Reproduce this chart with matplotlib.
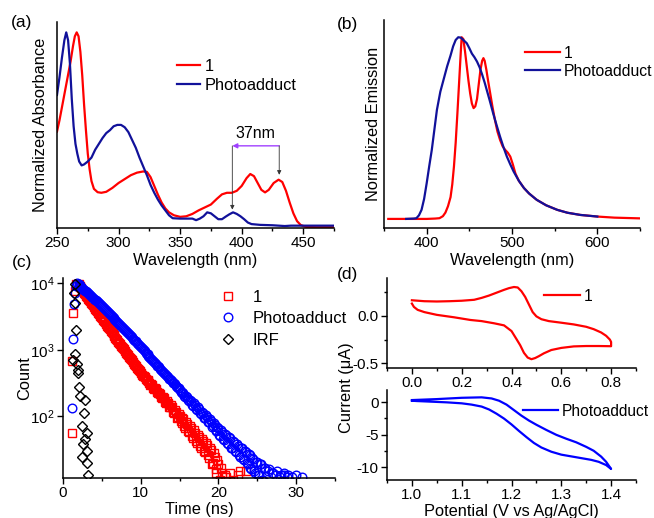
import numpy as np
import matplotlib
matplotlib.use('Agg')
import matplotlib.pyplot as plt
from matplotlib.ticker import MultipleLocator, FixedLocator, NullLocator, FormatStrFormatter

plt.rcParams['font.family'] = ['Liberation Sans', 'DejaVu Sans']
plt.rcParams['mathtext.fontset'] = 'custom'
plt.rcParams['mathtext.rm'] = 'Liberation Sans'
plt.rcParams['mathtext.it'] = 'Liberation Sans:italic'
plt.rcParams['axes.unicode_minus'] = False

# ---------------- data: (a) absorbance ----------------
abs1_wl = [250, 252, 255, 258, 261, 263, 264.5, 266, 267.5, 269, 270.5, 272, 273.5, 275, 276.5, 278, 280,
           283, 286, 290, 295, 300, 305, 310, 315, 320, 323, 326, 329, 332, 335, 338, 341, 345, 350,
           355, 360, 365, 370, 375, 380, 384, 388, 392, 396, 400, 404, 407, 410, 413, 416, 419, 422,
           426, 430, 433, 436, 439, 442, 445, 448, 452, 460, 475]
abs1_val = [0.493, 0.55, 0.65, 0.75, 0.85, 0.93, 0.98, 1.0, 0.98, 0.9, 0.78, 0.63, 0.5, 0.38, 0.3, 0.24, 0.2,
            0.183, 0.18, 0.185, 0.205, 0.23, 0.25, 0.27, 0.283, 0.289, 0.287, 0.26, 0.215, 0.17, 0.13, 0.10, 0.08, 0.065, 0.057,
            0.06, 0.072, 0.09, 0.105, 0.12, 0.15, 0.172, 0.18, 0.18, 0.19, 0.215, 0.255, 0.276, 0.265, 0.23, 0.195, 0.182, 0.195,
            0.23, 0.247, 0.235, 0.19, 0.13, 0.075, 0.035, 0.015, 0.006, 0.004, 0.004]
absP_wl = [250, 252, 254, 256, 257.5, 259, 260.5, 262, 263.5, 265, 266.5, 268, 270, 272, 275, 278, 281, 284,
           287, 290, 293, 296, 299, 302, 305, 308, 311, 314, 317, 320, 323, 326, 329, 332, 335, 338, 341,
           344, 350, 355, 360, 363, 366, 369, 372, 375, 378, 381, 384, 387, 390, 393, 396, 399, 402, 405,
           408, 415, 425, 435, 440, 475]
absP_val = [0.68, 0.77, 0.87, 0.96, 1.0, 0.96, 0.84, 0.66, 0.52, 0.43, 0.38, 0.34, 0.32, 0.325, 0.34, 0.36, 0.40, 0.43,
            0.46, 0.485, 0.50, 0.52, 0.527, 0.527, 0.515, 0.49, 0.45, 0.41, 0.36, 0.315, 0.27, 0.22, 0.18, 0.145, 0.115, 0.09, 0.065,
            0.05, 0.048, 0.048, 0.048, 0.04, 0.048, 0.06, 0.08, 0.075, 0.06, 0.045, 0.045, 0.058, 0.07, 0.08, 0.072, 0.06, 0.045, 0.028,
            0.02, 0.016, 0.014, 0.01, 0.012, 0.012]
shift_from = 430.5   # nm, peak of 1
shift_to = 392.4     # nm, peak of photoadduct
shift_label = "37nm"

# ---------------- data: (b) emission ----------------
em1_wl = [355, 380, 400, 410, 415, 419, 422, 425, 428, 430, 432, 434, 436, 438, 440, 441, 443, 445, 447, 449,
          451, 453, 455, 457, 459, 461, 463, 465, 466.5, 468, 470, 472, 474.5, 477, 480, 483, 486, 489, 492,
          495, 498, 501, 504, 508, 514, 520, 529, 540, 553, 565, 580, 600, 620, 650]
em1_val = [0.0, 0.0, 0.0, 0.002, 0.004, 0.015, 0.035, 0.07, 0.12, 0.19, 0.29, 0.42, 0.58, 0.75, 0.92, 1.0, 0.99, 0.92, 0.84, 0.76,
           0.69, 0.635, 0.61, 0.62, 0.66, 0.74, 0.82, 0.87, 0.885, 0.87, 0.82, 0.76, 0.69, 0.62, 0.545, 0.48, 0.435, 0.40, 0.38,
           0.365, 0.343, 0.30, 0.25, 0.21, 0.17, 0.14, 0.105, 0.075, 0.05, 0.034, 0.022, 0.013, 0.007, 0.003]
emP_wl = [376, 385, 388, 391, 394, 397, 400, 403, 406, 409, 412, 416, 420, 424, 428, 431, 434, 437, 440, 443,
          447, 450, 453, 456, 459, 462, 465, 468, 471, 474, 478, 482, 486, 490, 494, 498, 502, 508, 514, 520,
          529, 540, 553, 565, 580, 600]
emP_val = [0.0, 0.002, 0.004, 0.02, 0.05, 0.11, 0.196, 0.29, 0.38, 0.49, 0.60, 0.70, 0.77, 0.84, 0.90, 0.95, 0.985, 1.0, 0.998, 0.985,
           0.967, 0.94, 0.91, 0.89, 0.866, 0.835, 0.795, 0.75, 0.70, 0.65, 0.58, 0.515, 0.453, 0.395, 0.343, 0.30, 0.26, 0.21, 0.17, 0.14,
           0.105, 0.075, 0.05, 0.034, 0.022, 0.013]

# ---------------- data: (c) decay (counts per 0.125 ns channel) ----------------
chan_w = 0.125
rise1_t = [1.1, 1.2, 1.35, 1.5, 1.7]
rise1_c = [56, 680, 3500, 7600, 9700]
dec1_t0 = 2.0
dec1_c = [9550, 9180, 8650, 8300, 7850, 7520, 7110, 6830, 6460, 6120, 5850, 5600, 5310, 5020, 4810, 4620,
          4370, 4130, 3950, 3790, 3590, 3400, 3250, 3120, 2950, 2790, 2690, 2580, 2440, 2300, 2220, 2130,
          2020, 1900, 1840, 1770, 1670, 1580, 1520, 1460, 1390, 1310, 1260, 1210, 1150, 1080, 1045, 1010,
          951, 895, 865, 830, 787, 740, 716, 690, 652, 610, 593, 572, 540, 505, 491, 475,
          447, 418, 405, 400, 392, 365, 350, 352, 340, 312, 300, 302, 293, 268, 260, 262,
          255, 230, 222, 228, 220, 196, 190, 198, 188, 165, 160, 168, 160, 140, 136, 146,
          138, 118, 114, 124, 117, 96, 98, 108, 102, 84, 80, 94, 90, 72, 68, 82,
          76, 60, 58, 71, 66, 50, 48, 62, 56, 43, 40, 53, 49, 36, 34, 45,
          42, 30, 29, 40, 37, 26, 24, 33, 31, 19, 20, 28, 25, 14, 16, 22,
          19, 10, 11, 17, 14, 8, 9, 13, 12.5, 7, 8, 10, 14, 6, 9, 11,
          10, 7, 8, 9, 13, 7, 15, 8, 9, 6, 10, 7, 15, 6, 8, 5, 6]
riseP_t = [1.2, 1.3, 1.4, 1.5, 1.65, 1.8]
riseP_c = [135, 1450, 4800, 7100, 9000, 9900]
decP_t0 = 2.0
decP_c = [9550, 9300, 8980, 8700, 8450, 8170, 7940, 7720, 7470, 7230, 7020, 6820, 6600, 6390, 6210, 6040,
          5840, 5650, 5490, 5340, 5160, 4990, 4860, 4720, 4570, 4400, 4270, 4130, 3980, 3840, 3720, 3600,
          3470, 3340, 3240, 3140, 3020, 2910, 2820, 2730, 2630, 2530, 2450, 2380, 2290, 2200, 2130, 2060,
          1980, 1900, 1840, 1790, 1710, 1640, 1580, 1530, 1470, 1410, 1370, 1330, 1270, 1210, 1180, 1150,
          1100, 1050, 1020, 985, 944, 900, 877, 850, 813, 780, 755, 732, 700, 670, 650, 632,
          603, 575, 560, 545, 521, 495, 484, 470, 450, 428, 419, 408, 389, 368, 361, 352,
          336, 318, 313, 305, 290, 272, 270, 265, 251, 236, 228, 236, 224, 204, 196, 205,
          194, 174, 168, 178, 170, 150, 145, 156, 147, 130, 126, 136, 128, 111, 108, 118,
          111, 96, 94, 104, 97, 82, 81, 90, 84, 70, 71, 79, 74, 60, 62, 70,
          66, 52, 50, 62, 59, 45, 44, 55, 52, 40, 38, 49, 47, 34, 33, 43,
          41, 30, 29, 38, 36, 26, 25, 34, 33, 23, 22, 30, 29, 20, 19, 27,
          26, 17, 16, 24, 23, 15, 14, 21, 21, 13, 13, 19, 19, 11, 11, 17,
          17, 10, 10, 15, 16, 9, 9, 14, 14, 8, 8, 13, 15, 7, 7, 12.5,
          13, 6, 6, 13, 14, 6, 7, 12.5, 13, 5, 5, 9, 12.5, 5, 6, 8,
          13, 5, 5, 4, 4, 9, 12.5, 4, 4]
irf_t = [1.5, 1.45, 1.55, 1.65, 1.55, 1.35, 1.75, 1.95, 1.9, 2.05, 2.2, 2.85, 2.75, 2.4, 3.05, 2.85, 2.6, 3.05, 2.4, 3.05, 3.2]
irf_c = [9600, 7100, 5000, 2000, 850, 710, 600, 500, 450, 280, 200, 178, 112, 71, 56, 45, 38, 30, 25, 20, 13]

# ---------------- data: (d) cyclic voltammetry ----------------
cv1_E = [0.0, 0.05, 0.10, 0.15, 0.20, 0.25, 0.28, 0.31, 0.34, 0.37, 0.39, 0.41, 0.425, 0.44, 0.455, 0.47, 0.485,
         0.50, 0.52, 0.55, 0.60, 0.65, 0.70, 0.73, 0.76, 0.78, 0.795, 0.80,
         0.80, 0.75, 0.70, 0.65, 0.60, 0.56, 0.53, 0.51, 0.495, 0.48, 0.465, 0.45, 0.435, 0.42, 0.40, 0.37,
         0.33, 0.28, 0.235, 0.17, 0.10, 0.05, 0.023, 0.008, 0.0]
cv1_I = [0.165, 0.155, 0.152, 0.155, 0.16, 0.17, 0.19, 0.215, 0.245, 0.275, 0.293, 0.305, 0.30, 0.26, 0.2, 0.12, 0.04,
         -0.005, -0.035, -0.055, -0.072, -0.09, -0.115, -0.14, -0.175, -0.21, -0.25, -0.275,
         -0.32, -0.318, -0.318, -0.322, -0.338, -0.36, -0.395, -0.425, -0.445, -0.457, -0.44, -0.39, -0.31, -0.245, -0.16, -0.10,
         -0.078, -0.055, -0.043, -0.015, 0.011, 0.04, 0.064, 0.095, 0.13]
cvP_E = [1.0, 1.05, 1.10, 1.14, 1.16, 1.175, 1.19, 1.205, 1.22, 1.235, 1.25, 1.27, 1.29, 1.31, 1.33, 1.35, 1.365,
         1.38, 1.39, 1.40,
         1.39, 1.375, 1.36, 1.33, 1.30, 1.28, 1.26, 1.245, 1.23, 1.215, 1.20, 1.185, 1.17, 1.155, 1.14, 1.12, 1.10,
         1.07, 1.04, 1.01, 1.0]
cvP_I = [0.3, 0.45, 0.65, 0.72, 0.55, 0.2, -0.4, -1.25, -2.1, -2.85, -3.5, -4.3, -5.05, -5.65, -6.2, -6.9, -7.5,
         -8.4, -9.2, -10.3,
         -9.7, -9.2, -8.9, -8.5, -8.1, -7.65, -7.0, -6.3, -5.4, -4.45, -3.45, -2.55, -1.8, -1.15, -0.7, -0.4, -0.2,
         -0.05, 0.05, 0.15, 0.2]

RED = '#ff0000'
NAVY = '#11119a'
BLUE = '#0000ff'
PURPLE = '#a040ff'

W, H = 654, 518
fig = plt.figure(figsize=(W / 100, H / 100), dpi=100)


def rect(l, t, r, b):
    return [l / W, 1 - b / H, (r - l) / W, (b - t) / H]


def style(ax):
    for s in ['top', 'right']:
        ax.spines[s].set_visible(False)
    for s in ['left', 'bottom']:
        ax.spines[s].set_linewidth(1.1)
    ax.tick_params(which='major', direction='out', length=4, width=1.0, labelsize=11, pad=2)
    ax.tick_params(which='minor', direction='out', length=2.2, width=1.0)


LABEL_FS = 11.8

# ---- (a) ----
axa = fig.add_axes(rect(57, 22, 334, 228))
style(axa)
axa.plot(abs1_wl, abs1_val, color=RED, lw=1.6, label='1')
axa.plot(absP_wl, absP_val, color=NAVY, lw=1.6, label='Photoadduct')
axa.set_xlim(250, 475)
axa.set_ylim(0, 1.053)
axa.xaxis.set_major_locator(MultipleLocator(50))
axa.xaxis.set_minor_locator(MultipleLocator(25))
axa.yaxis.set_major_locator(NullLocator())
axa.set_xlabel('Wavelength (nm)', fontsize=LABEL_FS, labelpad=2)
axa.set_ylabel('Normalized Absorbance', fontsize=LABEL_FS)
axa.yaxis.set_label_coords(-0.033, 0.5)
axa.legend(loc='upper left', bbox_to_anchor=(0.433, 0.822), frameon=False, fontsize=11.8,
           handlelength=1.4, handletextpad=0.3, labelspacing=0.25, borderpad=0, borderaxespad=0)
yarr = 0.42
axa.annotate('', xy=(shift_to, yarr), xytext=(shift_from, yarr),
             arrowprops=dict(arrowstyle='-|>', color=PURPLE, lw=1.0, mutation_scale=7, shrinkA=0, shrinkB=0))
axa.annotate('', xy=(shift_to, 0.094), xytext=(shift_to, yarr),
             arrowprops=dict(arrowstyle='-|>', color='#333333', lw=0.6, mutation_scale=6, shrinkA=0, shrinkB=0))
axa.annotate('', xy=(shift_from, 0.272), xytext=(shift_from, yarr),
             arrowprops=dict(arrowstyle='-|>', color='#333333', lw=0.6, mutation_scale=6, shrinkA=0, shrinkB=0))
axa.text((shift_from + shift_to) / 2, 0.485, shift_label, ha='center', va='center', fontsize=11.5)

# ---- (b) ----
axb = fig.add_axes(rect(384, 20, 640, 228))
style(axb)
axb.plot(em1_wl, em1_val, color=RED, lw=1.6, label='1')
axb.plot(emP_wl, emP_val, color=NAVY, lw=1.6, label='Photoadduct')
axb.set_xlim(350, 650)
axb.set_ylim(-0.05, 1.095)
axb.xaxis.set_major_locator(FixedLocator([400, 500, 600]))
axb.xaxis.set_minor_locator(FixedLocator([350, 450, 550, 650]))
axb.yaxis.set_major_locator(NullLocator())
axb.set_xlabel('Wavelength (nm)', fontsize=LABEL_FS, labelpad=2)
axb.set_ylabel('Normalized Emission', fontsize=LABEL_FS)
axb.yaxis.set_label_coords(-0.012, 0.5)
axb.legend(loc='upper left', bbox_to_anchor=(0.551, 0.877), frameon=False, fontsize=11.3,
           handlelength=2.25, handletextpad=0.2, labelspacing=0.2, borderpad=0, borderaxespad=0)

# ---- (c) ----
axc = fig.add_axes(rect(63, 278, 335, 478))
style(axc)
dec1_t = dec1_t0 + chan_w * np.arange(len(dec1_c))
decP_t = decP_t0 + chan_w * np.arange(len(decP_c))
mk = dict(linestyle='none', markerfacecolor='none', markeredgewidth=1.0)
axc.plot(list(rise1_t) + list(dec1_t), rise1_c + dec1_c, marker='s', markersize=5.4,
         markeredgecolor=RED, label='1', **mk)
axc.plot(list(riseP_t) + list(decP_t), riseP_c + decP_c, marker='o', markersize=6.2,
         markeredgecolor=BLUE, label='Photoadduct', **mk)
axc.plot(irf_t, irf_c, marker='D', markersize=5.0, markeredgecolor='black', label='IRF', **mk)
axc.set_yscale('log')
axc.set_xlim(0, 35)
axc.set_ylim(11.9, 11900)
axc.xaxis.set_major_locator(MultipleLocator(10))
axc.xaxis.set_minor_locator(MultipleLocator(5))
axc.yaxis.set_major_locator(FixedLocator([100, 1000, 10000]))
axc.yaxis.set_minor_locator(NullLocator())
axc.set_yticklabels([r'$10^2$', r'$10^3$', r'$10^4$'])
axc.set_xlabel('Time (ns)', fontsize=LABEL_FS, labelpad=1)
axc.set_ylabel('Count', fontsize=LABEL_FS)
axc.yaxis.set_label_coords(-0.114, 0.5)
axc.legend(loc='upper left', bbox_to_anchor=(0.575, 0.9425), frameon=False, fontsize=12,
           handlelength=1.0, handletextpad=1.0, labelspacing=0.4, borderpad=0, borderaxespad=0,
           numpoints=1)

# ---- (d) top ----
axd1 = fig.add_axes(rect(387, 278, 636, 368))
style(axd1)
axd1.plot(cv1_E, cv1_I, color=RED, lw=1.6, label='1')
axd1.set_xlim(-0.1, 0.9)
axd1.set_ylim(-0.55, 0.40)
axd1.xaxis.set_major_locator(MultipleLocator(0.2))
axd1.xaxis.set_minor_locator(MultipleLocator(0.1))
axd1.yaxis.set_major_locator(FixedLocator([-0.5, 0.0]))
axd1.yaxis.set_minor_locator(FixedLocator([-0.25, 0.25]))
axd1.xaxis.set_major_formatter(FormatStrFormatter('%.1f'))
axd1.yaxis.set_major_formatter(FormatStrFormatter('%.1f'))
axd1.legend(loc='upper left', bbox_to_anchor=(0.629, 0.878), frameon=False, fontsize=11.3,
            handlelength=2.3, handletextpad=0.25, borderpad=0, borderaxespad=0)

# ---- (d) bottom ----
axd2 = fig.add_axes(rect(387, 390, 636, 480))
style(axd2)
axd2.plot(cvP_E, cvP_I, color=BLUE, lw=1.6, label='Photoadduct')
axd2.set_xlim(0.95, 1.45)
axd2.set_ylim(-12, 1.85)
axd2.xaxis.set_major_locator(MultipleLocator(0.1))
axd2.xaxis.set_minor_locator(MultipleLocator(0.05))
axd2.yaxis.set_major_locator(FixedLocator([-10, -5, 0]))
axd2.yaxis.set_minor_locator(FixedLocator([-7.5, -2.5]))
axd2.xaxis.set_major_formatter(FormatStrFormatter('%.1f'))
axd2.set_xlabel('Potential (V vs Ag/AgCl)', fontsize=LABEL_FS, labelpad=1)
axd2.legend(loc='upper left', bbox_to_anchor=(0.548, 0.85), frameon=False, fontsize=11.2,
            handlelength=2.2, handletextpad=0.25, borderpad=0, borderaxespad=0)

fig.text(346.5 / W, 1 - 388 / H, 'Current (μA)', rotation=90, ha='center', va='center', fontsize=LABEL_FS)

# panel labels
for lab, x, y in [('(a)', 22, 22), ('(b)', 347, 25), ('(c)', 22, 263), ('(d)', 347, 275)]:
    fig.text(x / W, 1 - y / H, lab, ha='center', va='center', fontsize=12.5)

fig.savefig('out.png', dpi=100)
